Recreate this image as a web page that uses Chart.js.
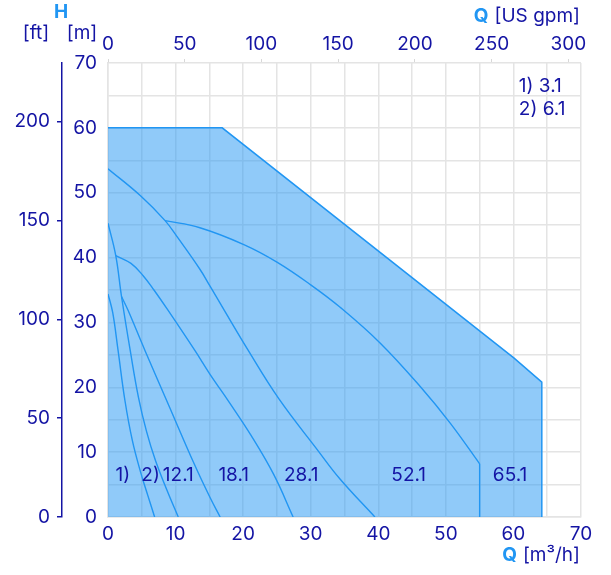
<!DOCTYPE html>
<html>
<head>
<meta charset="utf-8">
<script src="https://cdn.jsdelivr.net/npm/chart.js@4"></script>
<style>
  html, body { margin: 0; padding: 0; background: #fff; }
</style>
</head>
<body>
<canvas id="pumpChart" width="611" height="575"></canvas>
<script>
// Q in m³/h, H in m
const envQ = [0, 16.9, 60.1, 64.2, 64.2];
const envH = [60, 60, 24.5, 20.8, 0];

const q31 = [0, 0.7, 1.5, 2.5, 3.6, 4.8, 5.9, 6.9];
const h31 = [34.4, 31.5, 25.6, 18.0, 11.8, 7.0, 3.3, 0];

const q61 = [0, 1.15, 2.0, 3.3, 4.5, 5.7, 7.0, 8.7, 10.4];
const h61 = [45.3, 40.3, 34.0, 25.6, 18.5, 13.2, 8.8, 4.2, 0];

const q121 = [2.0, 3.0, 5.5, 9.0, 12.75, 15.1, 16.6];
const h121 = [34.0, 31.8, 25.6, 17.2, 8.2, 3.0, 0];

const q181 = [1.15, 3.4, 5.2, 6.8, 8.8, 12.9, 15.1, 18.0, 21.1, 24.5, 27.4];
const h181 = [40.3, 39.1, 37.2, 35.0, 32.0, 25.6, 22.0, 17.6, 12.7, 6.6, 0];

const q281 = [0, 4.85, 8.45, 10.3, 13.6, 15.1, 20.8, 25.3, 31.1, 34.3, 39.5];
const h281 = [53.7, 49.5, 45.7, 43.1, 38.2, 35.6, 25.6, 18.2, 10.2, 5.9, 0];

const q521 = [8.45, 13.6, 20.1, 25.0, 30.0, 34.4, 40.3, 46.3, 50.7, 55.0];
const h521 = [45.7, 44.6, 42.0, 39.3, 35.8, 32.3, 26.8, 20.0, 14.4, 8.2];

// curve tags along the bottom
const tagText = ["1)", "2)", "12.1", "18.1", "28.1", "52.1", "65.1"];
const tagQ = [2.2, 6.3, 10.4, 18.6, 28.6, 44.5, 59.5];
const tagH = 6.5;

const keyText = ["1) 3.1", "2) 6.1"];

const GPM_PER_M3H = 4.4029;
const FT_PER_M = 3.28084;

const lineBlue = "#2196f3";
const navy = "#1414a4";
const gridGray = "#e4e4e4";
const fontFamily = "Inter, 'DejaVu Sans', sans-serif";

Chart.defaults.font.family = fontFamily;
Chart.defaults.font.size = 19;
Chart.defaults.color = navy;

function pts(qs, hs) {
  return qs.map((q, i) => ({ x: q, y: hs[i] }));
}

function curve(qs, hs) {
  return {
    data: pts(qs, hs),
    borderColor: lineBlue,
    borderWidth: 1.4,
    pointRadius: 0,
    fill: false,
    tension: 0.4,
    order: 1
  };
}

// vertical drop at the end of the 52.1 curve
const last = q521.length - 1;
const drop521 = {
  data: [{ x: q521[last], y: h521[last] }, { x: q521[last], y: 0 }],
  borderColor: lineBlue,
  borderWidth: 1.4,
  pointRadius: 0,
  fill: false,
  tension: 0,
  order: 1
};

const envelope = {
  data: pts(envQ, envH),
  borderColor: lineBlue,
  borderWidth: 1.5,
  backgroundColor: "rgba(33,150,243,0.5)",
  pointRadius: 0,
  fill: "origin",
  tension: 0,
  order: 10
};

function drawTitle(ctx, right, y, bold, rest) {
  ctx.font = "19px " + fontFamily;
  const wRest = ctx.measureText(rest).width;
  ctx.fillStyle = navy;
  ctx.textAlign = "right";
  ctx.fillText(rest, right, y);
  ctx.font = "bold 19px " + fontFamily;
  ctx.fillStyle = lineBlue;
  ctx.fillText(bold, right - wRest - 6, y);
}

const textLayer = {
  id: "textLayer",
  afterDatasetsDraw(chart) {
    const { ctx } = chart;
    const x = chart.scales.x;
    const y = chart.scales.y;
    ctx.save();
    ctx.textBaseline = "middle";

    ctx.font = "19px " + fontFamily;
    ctx.fillStyle = navy;
    ctx.textAlign = "center";
    tagText.forEach((t, i) => {
      ctx.fillText(t, x.getPixelForValue(tagQ[i]), y.getPixelForValue(tagH));
    });

    ctx.textAlign = "left";
    keyText.forEach((t, i) => {
      ctx.fillText(t, x.getPixelForValue(60.8), y.getPixelForValue(66.4 - i * 3.6));
    });

    // axis titles
    drawTitle(ctx, 580, 16, "Q", "[US gpm]");
    drawTitle(ctx, 580, 555, "Q", "[m³/h]");

    ctx.font = "bold 19px " + fontFamily;
    ctx.fillStyle = lineBlue;
    ctx.textAlign = "center";
    ctx.fillText("H", 61, 12);

    ctx.font = "19px " + fontFamily;
    ctx.fillStyle = navy;
    ctx.fillText("[ft]", 36, 33);
    ctx.fillText("[m]", 82, 33);
    ctx.restore();
  }
};

new Chart(document.getElementById("pumpChart"), {
  type: "line",
  data: {
    datasets: [
      curve(q31, h31),
      curve(q61, h61),
      curve(q121, h121),
      curve(q181, h181),
      curve(q281, h281),
      curve(q521, h521),
      drop521,
      envelope
    ]
  },
  options: {
    responsive: false,
    animation: false,
    layout: { padding: { left: 0, right: 30, top: 0, bottom: 0 } },
    plugins: {
      legend: { display: false },
      tooltip: { enabled: false }
    },
    scales: {
      x: {
        type: "linear",
        position: "bottom",
        min: 0,
        max: 70,
        grid: { color: gridGray, lineWidth: 1.5, drawTicks: false },
        border: { color: gridGray, width: 1.5 },
        ticks: {
          stepSize: 5,
          padding: 6,
          callback: (v) => (v % 10 === 0 ? v : "")
        },
        afterFit: (s) => { s.height = 58; }
      },
      xTop: {
        type: "linear",
        position: "top",
        min: 0,
        max: 70 * GPM_PER_M3H,
        grid: { drawOnChartArea: false, drawTicks: true, tickLength: 4, color: "#d8d8d8" },
        border: { display: false },
        ticks: { stepSize: 50, includeBounds: false, padding: 3 },
        afterFit: (s) => { s.height = 63; }
      },
      y: {
        type: "linear",
        position: "left",
        weight: 0,
        min: 0,
        max: 70,
        grid: { color: gridGray, lineWidth: 1.5, drawTicks: false },
        border: { color: gridGray, width: 1.5 },
        ticks: {
          stepSize: 5,
          padding: 11,
          callback: (v) => (v % 10 === 0 ? v : "")
        },
        afterFit: (s) => { s.width = 46; }
      },
      yFt: {
        type: "linear",
        position: "left",
        weight: 1,
        min: 0,
        max: 70 * FT_PER_M,
        grid: { drawOnChartArea: false, drawTicks: true, tickLength: 5, color: navy, lineWidth: 1.5 },
        border: { display: true, color: navy, width: 1.5 },
        ticks: { stepSize: 50, includeBounds: false, padding: 7 },
        afterFit: (s) => { s.width = 62; }
      }
    }
  },
  plugins: [textLayer]
});
</script>
</body>
</html>
